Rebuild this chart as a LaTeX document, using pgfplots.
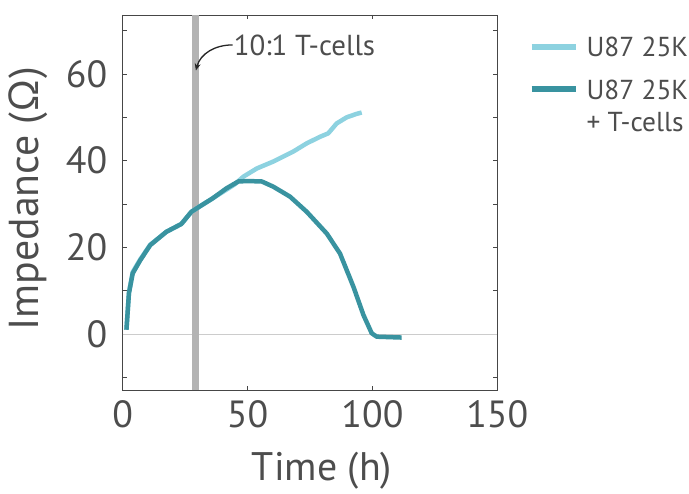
\documentclass[border=0pt]{standalone}
\usepackage{pgfplots}
\pgfplotsset{compat=1.18}
\usepackage{fontspec}
\setmainfont{PT Sans}
\usetikzlibrary{arrows.meta}
\definecolor{lightc}{RGB}{141,210,224}
\definecolor{darkc}{RGB}{57,147,160}
\definecolor{txt}{RGB}{77,77,77}
\definecolor{axc}{RGB}{70,70,70}
\begin{document}
\begin{tikzpicture}
\useasboundingbox (-122.7bp,-104bp) rectangle (566.3bp,390bp);
\begin{axis}[
  scale only axis, width=374.6bp, height=375bp,
  xmin=0, xmax=150, ymin=-12.9, ymax=73.6,
  xtick={0,50,100,150},
  ytick={-10,0,10,20,30,40,50,60,70},
  yticklabels={,0,,20,,40,,60,},
  tick align=inside, major tick length=4bp,
  axis line style={axc, line width=0.8bp},
  tick style={axc, line width=0.8bp},
  /pgf/number format/assume math mode=true,
  ticklabel style={font=\fontsize{38}{40}\selectfont, text=txt},
  xticklabel style={yshift=-7bp},
  yticklabel style={xshift=-12bp},
  xlabel={Time (h)}, ylabel={Impedance (Ω)},
  label style={font=\fontsize{40}{44}\selectfont, text=txt},
  xlabel style={at={(rel axis cs:0.532,-0.215)}, anchor=center},
  ylabel style={at={(rel axis cs:-0.2525,0.51)}, anchor=center, rotate=0, font=\fontsize{42}{46}\selectfont},
  legend style={at={(rel axis cs:1.075,0.95)}, anchor=north west, draw=none, fill=none,
    font=\fontsize{27.5}{32}\selectfont, text=txt, row sep=17bp,
    nodes={inner sep=1bp}},
  legend cell align=left,
  legend image code/.code={\draw[#1, line width=6bp] (0bp,0bp) -- (44bp,0bp);},
  clip=false,
]
\addplot[forget plot, draw={rgb,255:red,204;green,204;blue,204}, line width=0.8bp] coordinates {(0,0) (150,0)};
\addplot[forget plot, draw={rgb,255:red,179;green,179;blue,179}, line width=7bp] coordinates {(29.2,-12.9) (29.2,73.6)};
\addplot[lightc, line width=4.5bp, line join=round, line cap=butt] coordinates {
(1.5,1) (2.5,9.6) (4,14.3) (7,17.2) (11,20.6) (17.5,23.6) (23.5,25.4) (27.5,28.2) (31,29.5) (36,31.3) (41.5,33.3) (45,34.6) (48.3,36.3) (53.7,38.2) (60.3,39.8) (68.3,42.1) (73.7,44) (79,45.5) (82.3,46.3) (85.7,48.6) (89.7,50) (93.7,50.8) (95.7,51.1)};
\addlegendentry{\hspace*{7bp}U87 25K}
\addplot[darkc, line width=4.5bp, line join=round, line cap=butt] coordinates {
(1.5,1) (2.5,9.4) (4,14) (7,17) (11,20.5) (17.5,23.6) (23.5,25.4) (27.5,28.2) (31,29.5) (36,31.3) (41.5,33.6) (46.3,35.2) (50,35.3) (55.7,35.2) (60.3,34) (67,31.7) (73.7,28.2) (81.7,23.2) (87,18.6) (92.4,10.9) (96.4,4.4) (99.7,0.2) (101.7,-0.6) (111.7,-0.8)};
\addlegendentry{\begin{tabular}[t]{@{\hspace*{7bp}}l@{}}U87 25K\\+ T-cells\end{tabular}}
\draw[-{Stealth[length=7bp,width=6bp]}, line width=1.3bp, black!85] (axis cs:44,66.7) to[out=180,in=75] (axis cs:29.3,60.8);
\node[anchor=west, font=\fontsize{29}{32}\selectfont, text=txt, inner sep=1bp] at (axis cs:44,66.7) {10:1 T-cells};
\end{axis}
\end{tikzpicture}
\end{document}
